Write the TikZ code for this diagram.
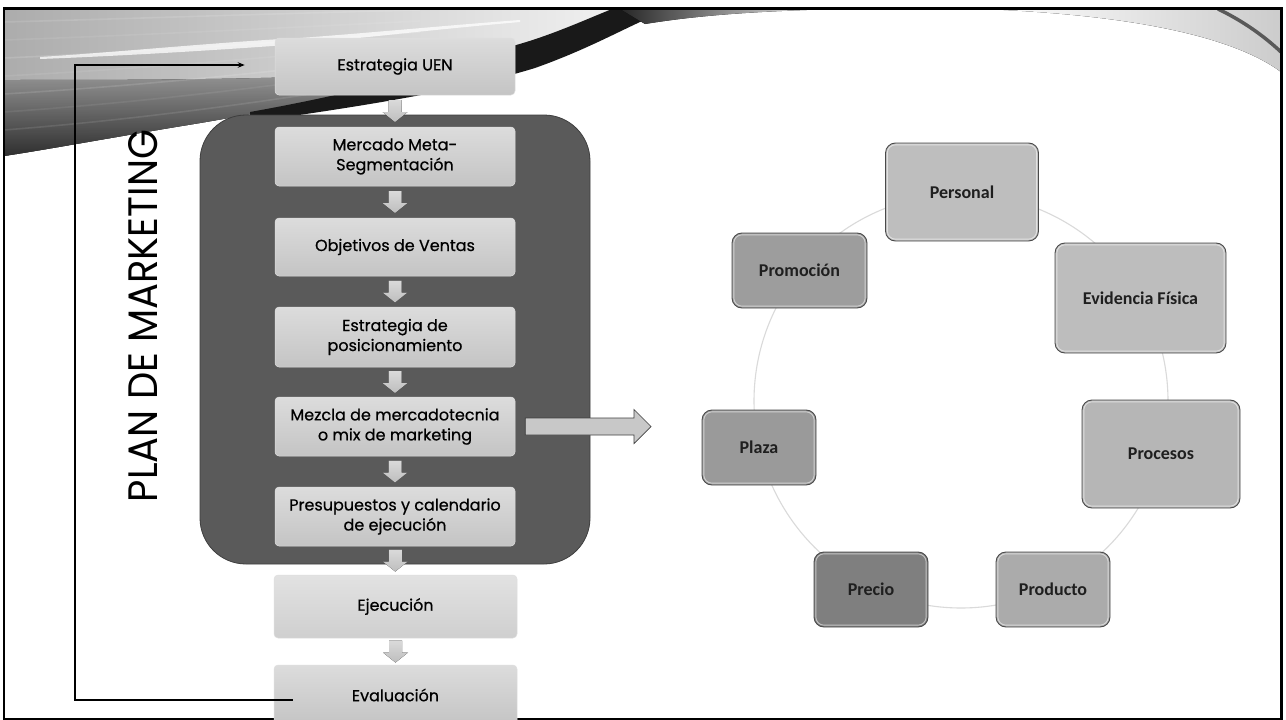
\documentclass[tikz,border=0pt]{standalone}
\usepackage{fontspec}
\usepackage{graphicx}
\usetikzlibrary{calc,arrows.meta}
\newfontfamily\flowfont{Poppins}[FakeBold=0.6]
\newfontfamily\titlefont{Poppins}
\newfontfamily\cycfont{Carlito}
\definecolor{contfill}{HTML}{5A5A5A}
\definecolor{contline}{HTML}{3E3E3E}
\definecolor{flowtop}{HTML}{DCDCDC}
\definecolor{flowbot}{HTML}{C4C4C4}
\definecolor{lighttop}{HTML}{E2E2E2}
\definecolor{lightbot}{HTML}{CFCFCF}
\definecolor{arrtop}{HTML}{DADADA}
\definecolor{arrbot}{HTML}{BEBEBE}
\definecolor{cycborder}{HTML}{4A4A4A}
\definecolor{ringcol}{HTML}{DADADA}
\definecolor{cPer}{HTML}{BEBEBE}
\definecolor{cEvi}{HTML}{BDBDBD}
\definecolor{cPro}{HTML}{B6B6B6}
\definecolor{cProd}{HTML}{ABABAB}
\definecolor{cPre}{HTML}{7F7F7F}
\definecolor{cPla}{HTML}{9A9A9A}
\definecolor{cProm}{HTML}{9D9D9D}
\definecolor{bigarr}{HTML}{C8C8C8}
\tikzset{
  flowbox/.style={rounded corners=4pt, inner sep=0pt, minimum width=240, align=center,
    font=\flowfont\fontsize{16}{20}\selectfont, text=black,
    top color=flowtop, bottom color=flowbot, draw=white!75!gray, line width=0.5pt},
  lightbox/.style={top color=lighttop, bottom color=lightbot},
  flowarr/.style={top color=arrtop, bottom color=arrbot},
  cyc/.style={draw=cycborder, line width=0.9pt, rounded corners=10pt, inner sep=0pt,
    font=\cycfont\bfseries\fontsize{18}{20}\selectfont, text=black!88},
  rimline/.style={draw=white, opacity=0.55, line width=0.9pt, rounded corners=8pt},
  ring/.style={draw=ringcol, line width=1.1pt},
  fbline/.style={draw=black, line width=1.2pt},
  bigarrow/.style={fill=bigarr, draw=black!75, line width=0.7pt, line join=miter},
  container/.style={fill=contfill, draw=contline, line width=0.8pt, rounded corners=46pt}
}
\newcommand\flowarrow[2]{%
  \path ($(#1.south)!0.5!(#2.north)$) coordinate (fam);
  \fill[flowarr] ($(fam)+(-6.5,-11)$) -- ($(fam)+(6.5,-11)$) -- ($(fam)+(6.5,1)$)
    -- ($(fam)+(12.5,1)$) -- ($(fam)+(0,11)$) -- ($(fam)+(-12.5,1)$)
    -- ($(fam)+(-6.5,1)$) -- cycle;}
\newcommand\cycrim[1]{%
  \draw[rimline] ([shift={(2.3,2.3)}]#1.north west) rectangle ([shift={(-2.3,-2.3)}]#1.south east);}
\begin{document}
\begin{tikzpicture}[x=1pt,y=-1pt]
\useasboundingbox (0,0) rectangle (1286,720);
\fill[white] (0,0) rectangle (1286,720);

% ---------- decorative header swoosh ----------
\fill[left color=gray!65, right color=gray!6]
  (4,9) -- (680,9) .. controls (610,14) and (560,32) .. (500,54)
  .. controls (420,82) and (300,106) .. (200,123)
  .. controls (120,136) and (50,149) .. (4,156) -- cycle;
\fill[top color=gray!45, bottom color=black!80, opacity=0.85]
  (4,80) .. controls (100,80) and (220,80) .. (330,76)
  .. controls (420,70) and (470,62) .. (500,54)
  .. controls (420,82) and (300,106) .. (200,123)
  .. controls (120,136) and (50,149) .. (4,156) -- cycle;
\foreach \k/\op in {0/0.12,1/0.08,2/0.14,3/0.08,4/0.12,5/0.07,6/0.1}{
  \draw[white, opacity=\op, line width=1.6pt]
    (4,{22+\k*18}) .. controls (120,{19+\k*17}) and (260,{14+\k*15}) .. (420,{10+\k*11});
}
\fill[white, opacity=0.75]
  (40,57) .. controls (120,52) and (220,42) .. (300,38)
  .. controls (380,32) and (440,26) .. (520,20)
  -- (520,22) .. controls (440,29) and (380,36) .. (300,44)
  .. controls (220,50) and (120,56) .. (40,59) -- cycle;
\fill[black!90]
  (250,122) .. controls (380,104) and (470,88) .. (535,68)
  .. controls (580,52) and (610,36) .. (640,22)
  .. controls (660,14) and (680,11) .. (700,9)
  -- (612,9) .. controls (580,22) and (545,38) .. (505,48)
  .. controls (430,74) and (340,96) .. (250,112) -- cycle;
\fill[left color=black!85, right color=white]
  (620,9) -- (840,9) .. controls (760,11) and (700,15) .. (645,24) -- cycle;
\fill[left color=white, right color=gray!40]
  (980,9) .. controls (1120,14) and (1230,34) .. (1281,72) -- (1281,9) -- cycle;
\draw[black!65, line width=3.5pt]
  (1218,9) .. controls (1243,21) and (1264,36) .. (1281,52);

% slide frame
\draw[black, line width=2.6pt] (4,8.5) rectangle (1281.5,719.5);

% ---------- cycle on the right ----------
\coordinate (ringc) at (961,401);
\draw[ring] (ringc) circle[radius=207];
\node[cyc, fill=cPer,  minimum width=153, minimum height=98]  (per)  at (962,192)     {Personal};
\node[cyc, fill=cEvi,  minimum width=171, minimum height=110] (evi)  at (1140.5,298)  {Evidencia Física};
\node[cyc, fill=cPro,  minimum width=158, minimum height=108] (proc) at (1161,454)    {Procesos};
\node[cyc, fill=cProd, minimum width=114, minimum height=75]  (prod) at (1053,589.5)  {Producto};
\node[cyc, fill=cPre,  minimum width=114, minimum height=75]  (prec) at (871,589.5)   {Precio};
\node[cyc, fill=cPla,  minimum width=114, minimum height=75]  (pla)  at (759,447.5)   {Plaza};
\node[cyc, fill=cProm, minimum width=135, minimum height=75]  (prom) at (799.5,270.5) {Promoción};
\foreach \n in {per,evi,proc,prod,prec,pla,prom}{\cycrim{\n}}

% ---------- flow on the left ----------
\draw[container] (200,115) rectangle (590,564);
\node[flowbox, minimum height=57] (uen) at (395,66.5) {Estrategia UEN};
\node[flowbox, minimum height=59] (mer) at (395,156.5) {Mercado Meta-\\Segmentación};
\node[flowbox, minimum height=58] (obj) at (395,247) {Objetivos de Ventas};
\node[flowbox, minimum height=60] (pos) at (395,337) {Estrategia de\\posicionamiento};
\node[flowbox, minimum height=59] (mez) at (395,426.5) {Mezcla de mercadotecnia\\o mix de marketing};
\node[flowbox, minimum height=59] (pre) at (395,516.5) {Presupuestos y calendario\\de ejecución};
\node[flowbox, lightbox, minimum height=63, minimum width=243] (eje) at (395.5,606.5) {Ejecución};
\node[flowbox, minimum height=60, minimum width=243] (eva) at (395.5,695) {Evaluación};

\flowarrow{uen}{mer}
\flowarrow{mer}{obj}
\flowarrow{obj}{pos}
\flowarrow{pos}{mez}
\flowarrow{mez}{pre}
\flowarrow{pre}{eje}
\flowarrow{eje}{eva}

% big arrow to the cycle
\path ($(mez.east)+(10,0)$) coordinate (mixbase);
\coordinate (mixtip) at (651,426.5);
\draw[bigarrow] ($(mixbase)+(0,-8.5)$) -- ($(mixtip)+(-17,-8.5)$) -- ($(mixtip)+(-17,-17)$)
  -- (mixtip) -- ($(mixtip)+(-17,17)$) -- ($(mixtip)+(-17,8.5)$) -- ($(mixbase)+(0,8.5)$) -- cycle;

% feedback loop
\path ($(eva.west)+(19,5)$) coordinate (fbstart);
\path ($(uen.west)+(-30,-1.5)$) coordinate (fbend);
\coordinate (fbc1) at (75,700);
\coordinate (fbc2) at (75,65);
\draw[fbline, -{Stealth[length=7pt,width=5.5pt]}] (fbstart) -- (fbc1) -- (fbc2) -- (fbend);

% vertical title
\node[rotate=90, anchor=base, inner sep=0pt, font=\titlefont, text=black] (title) at (157,316)
  {\resizebox{372pt}{29pt}{PLAN DE MARKETING}};
\end{tikzpicture}
\end{document}
